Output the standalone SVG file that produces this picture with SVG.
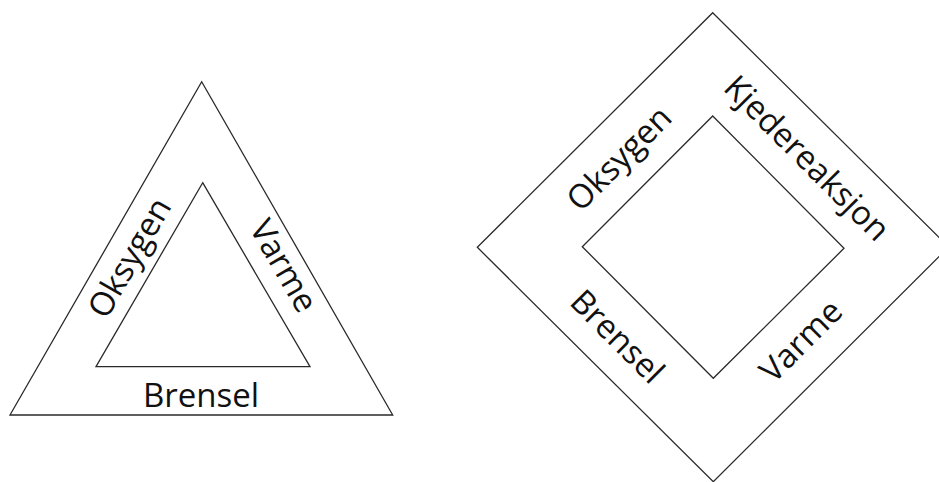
<svg xmlns="http://www.w3.org/2000/svg" width="939" height="482" viewBox="0 0 939 482">
<style>
.shape{fill:none;stroke:#2a2a2a;stroke-width:1.3;stroke-linejoin:miter}
.lbl{font-family:"Open Sans","Noto Sans","Liberation Sans",sans-serif;font-size:33px;fill:#111;text-anchor:middle}
</style>
<rect width="939" height="482" fill="#fff"/>
<g id="fire-triangle">
  <polygon class="shape" points="201.7,81.7 392.7,415 10,415"/>
  <polygon class="shape" points="202.7,182.7 310,366.7 96,366.7"/>
  <g id="tri-oksygen"><text class="lbl" transform="translate(139.4,263.3) rotate(-60)">Oksygen</text></g>
  <g id="tri-varme"><text class="lbl" transform="translate(273.8,271.5) rotate(60)">Varme</text></g>
  <g id="tri-brensel"><text class="lbl" x="201" y="407">Brensel</text></g>
</g>
<g id="fire-tetrahedron">
  <polygon class="shape" points="712.7,12.7 948.7,247 713.3,481.7 477.3,247.3"/>
  <polygon class="shape" points="712.7,116 844,248.3 713.3,378.3 582.3,246.7"/>
  <g id="sq-oksygen"><text class="lbl" transform="translate(627.2,166.4) rotate(-45)">Oksygen</text></g>
  <g id="sq-kjedereaksjon"><text class="lbl" transform="translate(799,166.1) rotate(45)">Kjedereaksjon</text></g>
  <g id="sq-brensel"><text class="lbl" transform="translate(609.3,344.6) rotate(45)">Brensel</text></g>
  <g id="sq-varme"><text class="lbl" transform="translate(809,349) rotate(-45)">Varme</text></g>
</g>
<g id="connectors"></g>
</svg>
